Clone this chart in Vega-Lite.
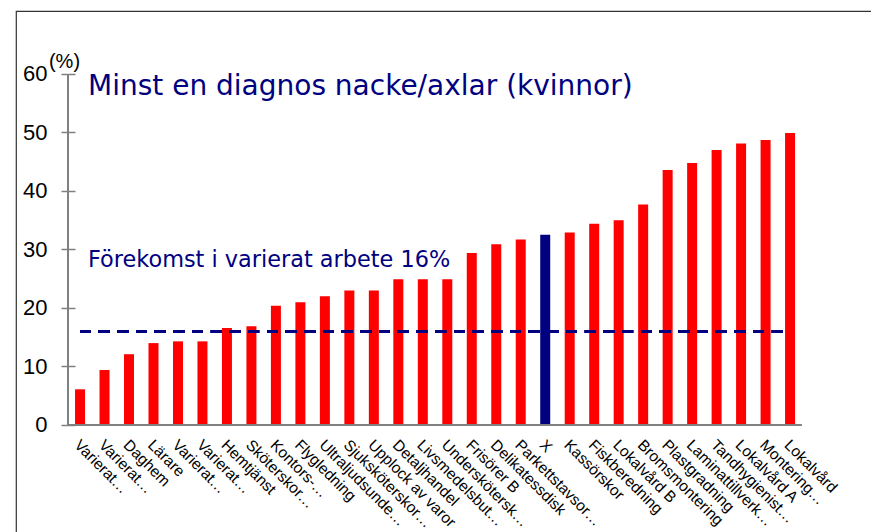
{
  "$schema": "https://vega.github.io/schema/vega-lite/v6.json",
  "width": 856,
  "height": 525,
  "autosize": "none",
  "padding": {"left": 16, "top": 11, "right": 0, "bottom": 0},
  "background": "white",
  "config": {"view": {"stroke": "#333333", "strokeWidth": 1.2}},
  "title": {
    "text": "Minst en diagnos nacke/axlar (kvinnor)",
    "subtitle": "Förekomst i varierat arbete 16%",
    "anchor": "start",
    "frame": "group",
    "orient": "top",
    "offset": 0,
    "color": "#000080",
    "subtitleColor": "#000080",
    "font": "DejaVu Sans",
    "subtitleFont": "DejaVu Sans",
    "fontSize": 28,
    "fontWeight": "normal",
    "subtitleFontSize": 22.4,
    "subtitlePadding": 148,
    "dx": 72,
    "dy": 260
  },
  "data": {
    "values": [
      {"yrke": "Varierat…", "andel": 6.1, "grupp": "yrke"},
      {"yrke": "Varierat…\u200b", "andel": 9.4, "grupp": "yrke"},
      {"yrke": "Daghem", "andel": 12.1, "grupp": "yrke"},
      {"yrke": "Lärare", "andel": 14.0, "grupp": "yrke"},
      {"yrke": "Varierat…\u200b\u200b", "andel": 14.3, "grupp": "yrke"},
      {"yrke": "Varierat…\u200b\u200b\u200b", "andel": 14.3, "grupp": "yrke"},
      {"yrke": "Hemtjänst", "andel": 16.6, "grupp": "yrke"},
      {"yrke": "Sköterskor…", "andel": 16.9, "grupp": "yrke"},
      {"yrke": "Kontors-…", "andel": 20.4, "grupp": "yrke"},
      {"yrke": "Flygledning", "andel": 21.0, "grupp": "yrke"},
      {"yrke": "Ultraljudsunde…", "andel": 22.0, "grupp": "yrke"},
      {"yrke": "Sjuksköterskor…", "andel": 23.0, "grupp": "yrke"},
      {"yrke": "Upplock av varor", "andel": 23.0, "grupp": "yrke"},
      {"yrke": "Detaljhandel", "andel": 24.9, "grupp": "yrke"},
      {"yrke": "Livsmedelsbut…", "andel": 24.9, "grupp": "yrke"},
      {"yrke": "Underskötersk…", "andel": 24.9, "grupp": "yrke"},
      {"yrke": "Frisörer B", "andel": 29.4, "grupp": "yrke"},
      {"yrke": "Delikatessdisk", "andel": 30.9, "grupp": "yrke"},
      {"yrke": "Parkettstavsor…", "andel": 31.7, "grupp": "yrke"},
      {"yrke": "X", "andel": 32.5, "grupp": "X"},
      {"yrke": "Kassörskor", "andel": 32.9, "grupp": "yrke"},
      {"yrke": "Fiskberedning", "andel": 34.4, "grupp": "yrke"},
      {"yrke": "Lokalvård B", "andel": 35.0, "grupp": "yrke"},
      {"yrke": "Bromsmontering", "andel": 37.7, "grupp": "yrke"},
      {"yrke": "Plastgradning", "andel": 43.6, "grupp": "yrke"},
      {"yrke": "Laminattillverk…", "andel": 44.8, "grupp": "yrke"},
      {"yrke": "Tandhygienist…", "andel": 47.0, "grupp": "yrke"},
      {"yrke": "Lokalvård A", "andel": 48.1, "grupp": "yrke"},
      {"yrke": "Montering…", "andel": 48.7, "grupp": "yrke"},
      {"yrke": "Lokalvård", "andel": 49.9, "grupp": "yrke"}
    ]
  },
  "encoding": {
    "x": {
      "field": "yrke",
      "type": "nominal",
      "sort": null,
      "scale": {"range": [51.8, 786.3], "paddingInner": 0.5916, "paddingOuter": 0.2958},
      "axis": {
        "title": null,
        "offset": -111,
        "domain": false,
        "ticks": false,
        "labelAngle": 45,
        "labelAlign": "left",
        "labelBaseline": "top",
        "labelPadding": 12,
        "labelOffset": 2,
        "labelFont": "Liberation Sans",
        "labelFontSize": 15.5,
        "labelColor": "#000000",
        "labelOverlap": false,
        "labelLimit": 0,
        "labelBound": false
      }
    }
  },
  "layer": [
    {
      "mark": {"type": "bar"},
      "encoding": {
        "y": {
          "field": "andel",
          "type": "quantitative",
          "scale": {"domain": [-18.975, 70.769], "nice": false, "zero": false},
          "axis": {
            "values": [0, 10, 20, 30, 40, 50, 60],
            "offset": -59,
            "domain": false,
            "grid": false,
            "tickSize": 14,
            "tickColor": "#808080",
            "tickWidth": 1.5,
            "labelPadding": 14,
            "labelFont": "Liberation Sans",
            "labelFontSize": 22,
            "labelColor": "#000000",
            "title": "(%)",
            "titleAngle": 0,
            "titleAlign": "center",
            "titleBaseline": "alphabetic",
            "titleX": -11,
            "titleY": 56,
            "titleFont": "Liberation Sans",
            "titleFontSize": 20,
            "titleFontWeight": "normal",
            "titleColor": "#000000"
          }
        },
        "color": {
          "field": "grupp",
          "type": "nominal",
          "scale": {"domain": ["yrke", "X"], "range": ["#ff0000", "#000080"]},
          "legend": null
        }
      }
    },
    {
      "mark": {"type": "rule", "color": "#808080", "strokeWidth": 1.5, "xOffset": -7},
      "encoding": {
        "x": {"datum": "Varierat…", "type": "nominal", "bandPosition": 0},
        "y": {"datum": 0, "type": "quantitative"},
        "y2": {"datum": 60}
      }
    },
    {
      "mark": {"type": "rule", "color": "#808080", "strokeWidth": 2, "xOffset": -7, "x2Offset": 6},
      "encoding": {
        "x": {"datum": "Varierat…", "type": "nominal", "bandPosition": 0},
        "x2": {"datum": "Lokalvård", "bandPosition": 1},
        "y": {"datum": 0, "type": "quantitative"}
      }
    },
    {
      "mark": {"type": "rule", "color": "#000080", "strokeWidth": 3, "strokeDash": [10.7, 8]},
      "encoding": {
        "x": {"datum": "Varierat…", "type": "nominal", "bandPosition": 0.5},
        "x2": {"datum": "Lokalvård", "bandPosition": 0.5},
        "y": {"datum": 16, "type": "quantitative"}
      }
    }
  ]
}
